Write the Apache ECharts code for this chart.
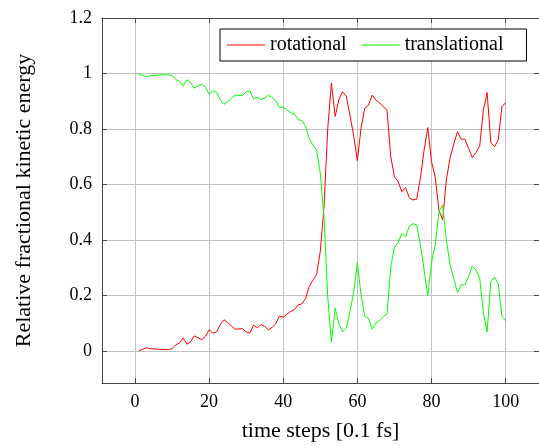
<!DOCTYPE html>
<html><head><meta charset="utf-8">
<script src="https://cdn.jsdelivr.net/npm/echarts@6/dist/echarts.min.js"></script>
<style>html,body{margin:0;padding:0;background:#fff}#c{width:539px;height:446px}</style>
</head><body><div id="c"></div>
<script>
const steps = [1,2,3,4,5,6,7,8,9,10,11,12,13,14,15,16,17,18,19,20,
  21,22,23,24,25,26,27,28,29,30,31,32,33,34,35,36,37,38,39,40,
  41,42,43,44,45,46,47,48,49,50,51,52,53,54,55,56,57,58,59,60,
  61,62,63,64,65,66,67,68,69,70,71,72,73,74,75,76,77,78,79,80,
  81,82,83,84,85,86,87,88,89,90,91,92,93,94,95,96,97,98,99,100];
const rotational = [0.000,0.005,0.011,0.008,0.007,0.006,0.005,0.004,0.005,0.007,
  0.022,0.028,0.047,0.024,0.032,0.054,0.047,0.040,0.052,0.076,
  0.064,0.068,0.095,0.112,0.102,0.090,0.078,0.079,0.080,0.068,
  0.064,0.093,0.083,0.095,0.088,0.076,0.085,0.098,0.126,0.121,
  0.132,0.142,0.148,0.166,0.169,0.188,0.232,0.255,0.275,0.360,
  0.520,0.800,0.965,0.845,0.905,0.934,0.918,0.850,0.775,0.685,
  0.805,0.875,0.885,0.922,0.904,0.894,0.880,0.868,0.700,0.628,
  0.610,0.574,0.589,0.552,0.544,0.547,0.622,0.724,0.805,0.682,
  0.626,0.508,0.472,0.616,0.695,0.745,0.790,0.763,0.763,0.730,
  0.697,0.715,0.739,0.868,0.931,0.751,0.736,0.760,0.880,0.895];
const translational = [0.998,0.993,0.989,0.991,0.993,0.994,0.995,0.996,0.995,0.993,
  0.978,0.972,0.955,0.977,0.968,0.947,0.954,0.961,0.951,0.925,
  0.937,0.932,0.905,0.889,0.898,0.910,0.922,0.921,0.920,0.934,
  0.937,0.908,0.915,0.906,0.911,0.922,0.913,0.901,0.877,0.879,
  0.868,0.858,0.854,0.834,0.830,0.810,0.766,0.742,0.724,0.640,
  0.480,0.195,0.032,0.154,0.098,0.068,0.082,0.142,0.210,0.318,
  0.200,0.124,0.118,0.078,0.100,0.108,0.124,0.133,0.302,0.374,
  0.390,0.424,0.412,0.450,0.458,0.454,0.382,0.292,0.198,0.318,
  0.382,0.502,0.526,0.400,0.310,0.262,0.210,0.238,0.238,0.268,
  0.304,0.292,0.262,0.136,0.068,0.250,0.266,0.241,0.126,0.108];
const xTicks = [0,20,40,60,80,100];
const yTicks = [0,0.2,0.4,0.6,0.8,1,1.2];

const FONT = 'Liberation Serif';
const spine = {onZero:false, lineStyle:{color:'#444', width:1}};
const tick = (vals) => ({inside:true, length:5, customValues:vals, lineStyle:{color:'#444'}});
const XMIN = -8.9, XMAX = 109, YMIN = -0.116, YMAX = 1.2;

const chart = echarts.init(document.getElementById('c'), null, {renderer:'canvas'});
chart.setOption({
  animation:false,
  backgroundColor:'#fff',
  textStyle:{fontFamily:FONT},
  grid:{left:102, top:18, right:0, bottom:63, outerBoundsMode:'none'},
  legend:{
    left:220, top:29, itemWidth:38, itemHeight:1.2, itemGap:15, icon:'rect',
    padding:[6,23,6,7], borderColor:'#000', borderWidth:1, backgroundColor:'#fff',
    textStyle:{fontFamily:FONT, fontSize:20, color:'#000'},
    data:['rotational','translational']
  },
  xAxis:[
    {type:'value', position:'bottom', min:XMIN, max:XMAX,
     axisLine:spine, axisTick:tick(xTicks),
     axisLabel:{customValues:xTicks, margin:10, fontFamily:FONT, fontSize:18, color:'#000'},
     splitLine:{show:true, lineStyle:{color:'#c4c4c4', width:1}},
     name:'time steps [0.1 fs]', nameLocation:'middle', nameGap:37,
     nameTextStyle:{fontFamily:FONT, fontSize:22, color:'#000'}},
    {type:'value', position:'top', min:XMIN, max:XMAX,
     axisLine:spine, axisTick:tick(xTicks), axisLabel:{show:false}, splitLine:{show:false}}
  ],
  yAxis:[
    {type:'value', position:'left', min:YMIN, max:YMAX,
     axisLine:spine, axisTick:tick(yTicks),
     axisLabel:{customValues:yTicks, margin:10, fontFamily:FONT, fontSize:18, color:'#000'},
     splitLine:{show:true, lineStyle:{color:'#c4c4c4', width:1}},
     name:'Relative fractional kinetic energy', nameLocation:'middle', nameGap:67,
     nameTextStyle:{fontFamily:FONT, fontSize:22, color:'#000'}},
    {type:'value', position:'right', min:YMIN, max:YMAX,
     axisLine:spine, axisTick:tick(yTicks), axisLabel:{show:false}, splitLine:{show:false}}
  ],
  series:[
    {name:'rotational', type:'line', symbol:'none', xAxisIndex:0, yAxisIndex:0,
     color:'#ff0000', lineStyle:{color:'#ff0000', width:1},
     data: steps.map((s,i)=>[s, rotational[i]])},
    {name:'translational', type:'line', symbol:'none', xAxisIndex:0, yAxisIndex:0,
     color:'#00ff00', lineStyle:{color:'#00ff00', width:1},
     data: steps.map((s,i)=>[s, translational[i]])}
  ]
});
</script></body></html>
